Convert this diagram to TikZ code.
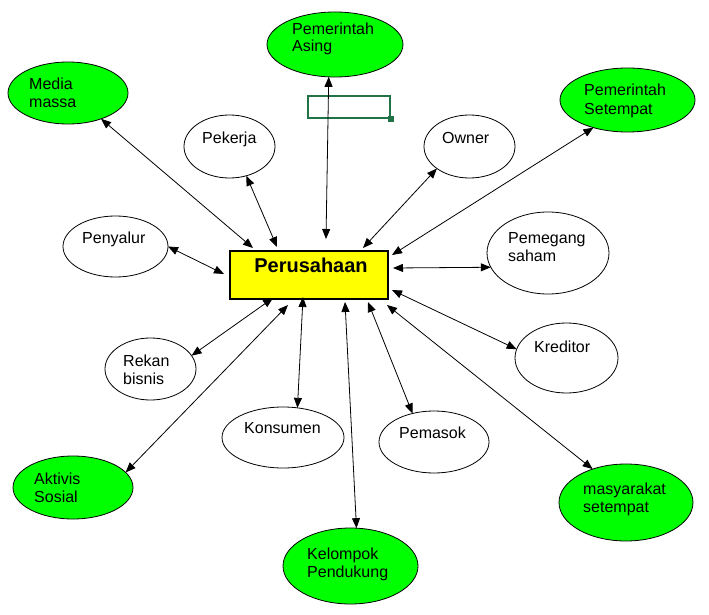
\documentclass[tikz,border=0pt]{standalone}
\usepackage{fontspec}
\setmainfont{Liberation Sans}
\usetikzlibrary{shapes.geometric,arrows.meta}
\definecolor{gfill}{HTML}{00FF00}
\definecolor{yfill}{HTML}{FFFF00}
\definecolor{selgreen}{HTML}{217346}
\tikzset{
  ell/.style={ellipse,draw=black,line width=0.8pt,inner sep=0pt,outer sep=0pt},
  greenell/.style={ell,fill=gfill},
  whiteell/.style={ell,fill=white},
  lbl/.style={anchor=base west,inner sep=0pt,align=left,font=\fontsize{16}{18}\selectfont},
  conn/.style={line width=0.8pt,{Triangle[length=10pt,width=8pt]}-{Triangle[length=10pt,width=8pt]}},
}
\begin{document}
\begin{tikzpicture}[x=1pt,y=-1pt]
\useasboundingbox[fill=white] (0,0) rectangle (709,615);
% ellipses
\node[greenell,minimum width=136,minimum height=65] (asing) at (335,44.5) {};
\node[greenell,minimum width=120,minimum height=62] (media) at (68,93) {};
\node[greenell,minimum width=135,minimum height=64] (setempat) at (627.5,100) {};
\node[whiteell,minimum width=91,minimum height=63] (pekerja) at (229.5,146.5) {};
\node[whiteell,minimum width=91,minimum height=63] (owner) at (469.5,146.5) {};
\node[whiteell,minimum width=105,minimum height=61] (penyalur) at (115.5,246.5) {};
\node[whiteell,minimum width=122,minimum height=82] (pemegang) at (548,253) {};
\node[whiteell,minimum width=91,minimum height=62] (rekan) at (150.5,369) {};
\node[whiteell,minimum width=103,minimum height=70] (kreditor) at (566.5,358) {};
\node[whiteell,minimum width=122,minimum height=61] (konsumen) at (283,437.5) {};
\node[whiteell,minimum width=110,minimum height=62] (pemasok) at (434,442) {};
\node[greenell,minimum width=120,minimum height=63] (aktivis) at (73,487.5) {};
\node[greenell,minimum width=134,minimum height=77] (masyarakat) at (626,502.5) {};
\node[greenell,minimum width=135,minimum height=76] (kelompok) at (350.5,566) {};
% labels (base = baseline of the last line)
\node[lbl,font=\fontsize{16}{16.5}\selectfont] (tasing) at (292,51.5) {Pemerintah\\Asing};
\node[lbl] (tmedia) at (29,108) {Media\\massa};
\node[lbl] (tsetempat) at (584,114) {Pemerintah\\Setempat};
\node[lbl] (tpekerja) at (202,143) {Pekerja};
\node[lbl] (towner) at (442,143) {Owner};
\node[lbl] (tpenyalur) at (82,243) {Penyalur};
\node[lbl] (tpemegang) at (508,261) {Pemegang\\saham};
\node[lbl] (trekan) at (123,384) {Rekan\\bisnis};
\node[lbl] (tkreditor) at (534,352) {Kreditor};
\node[lbl] (tkonsumen) at (244,433) {Konsumen};
\node[lbl] (tpemasok) at (399,438) {Pemasok};
\node[lbl] (taktivis) at (34,502) {Aktivis\\Sosial};
\node[lbl] (tmasyarakat) at (583,512) {masyarakat\\setempat};
\node[lbl] (tkelompok) at (307,577) {Kelompok\\Pendukung};
% selection rectangle
\node[draw=selgreen,line width=1.6pt,minimum width=82,minimum height=22,inner sep=0pt] (sel) at (349,107) {};
\node[fill=selgreen,minimum size=5.5,inner sep=0pt] (selh) at (sel.south east) {};
% central box
\node[draw=black,fill=yfill,line width=2.2pt,minimum width=158,minimum height=48,inner sep=0pt] (box) at (309,275) {};
\node[anchor=base,inner sep=0pt,font=\fontsize{20}{24}\selectfont\bfseries] (tbox) at (311,272) {Perusahaan};
% box-side ends
\coordinate (b1) at (253,248);
\coordinate (b2) at (277,247);
\coordinate (b3) at (224,274);
\coordinate (b4) at (326,239);
\coordinate (b5) at (363,248);
\coordinate (b6) at (392,255);
\coordinate (b7) at (393,268);
\coordinate (b8) at (392,290);
\coordinate (b9) at (387,305);
\coordinate (b10) at (368,302);
\coordinate (b11) at (345,302);
\coordinate (b12) at (303,297);
\coordinate (b13) at (288,305);
\coordinate (b14) at (273,298);
% connectors
\draw[conn] (media.-38) -- (b1);
\draw[conn] (pekerja.-60) -- (b2);
\draw[conn] (penyalur.0) -- (b3);
\draw[conn] (asing.-101) -- (b4);
\draw[conn] (owner.-146) -- (b5);
\draw[conn] (setempat.-141) -- (b6);
\draw[conn] (pemegang.-166) -- (b7);
\draw[conn] (kreditor.170) -- (b8);
\draw[conn] (masyarakat.135) -- (b9);
\draw[conn] (pemasok.127) -- (b10);
\draw[conn] (kelompok.81) -- (b11);
\draw[conn] (konsumen.64) -- (b12);
\draw[conn] (aktivis.16) -- (b13);
\draw[conn] (rekan.18) -- (b14);
\end{tikzpicture}
\end{document}
